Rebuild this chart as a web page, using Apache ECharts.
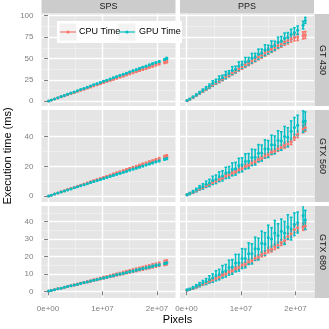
<!DOCTYPE html>
<html>
<head>
<meta charset="utf-8">
<title>Execution time</title>
<script src="https://cdn.jsdelivr.net/npm/echarts@6/dist/echarts.min.js"></script>
<style>
  html, body { margin: 0; padding: 0; background: #fff; }
  #main { width: 329px; height: 329px; }
</style>
</head>
<body>
<div id="main"></div>
<script>
// image size in millions of pixels
var pixels = [0.1, 0.6, 1.2, 1.8, 2.4, 3.0, 3.6, 4.2, 4.8, 5.4, 6.0, 6.6, 7.2, 7.8, 8.4, 9.0, 9.6, 10.2, 10.8, 11.4,
              12.0, 12.6, 13.2, 13.8, 14.4, 15.0, 15.6, 16.2, 16.8, 17.4, 18.0, 18.6, 19.2, 19.8, 20.4, 21.4, 21.8];
var xTickValues = [0, 10, 20];
var xTickLabels = ['0e+00', '1e+07', '2e+07'];
var xMinor = [5, 15];
var kernels = ['SPS', 'PPS'];
var devices = ['GT 430', 'GTX 560', 'GTX 680'];
var yTicks = [[0, 25, 50, 75, 100], [0, 20, 40], [0, 10, 20, 30, 40]];
var yMinor = [[12.5, 37.5, 62.5, 87.5], [10, 30, 50], [5, 15, 25, 35, 45]];
var seriesNames = ['CPU Time', 'GPU Time'];

// GT 430 / SPS
var gt430SpsCpu = [0.2, 1.3, 2.6, 3.9, 5.2, 6.5, 7.7, 9.0, 10.3, 11.6, 12.9, 14.2, 15.5, 16.8, 18.1, 19.4, 20.6, 21.9, 23.2, 24.5,
                   25.8, 27.1, 28.4, 29.7, 31.0, 32.3, 33.5, 34.8, 36.1, 37.4, 38.7, 40.0, 41.3, 42.6, 43.9, 46.0, 46.9];
var gt430SpsCpuErr = [0.1, 0.1, 0.2, 0.2, 0.2, 0.3, 0.3, 0.3, 0.4, 0.4, 0.4, 0.5, 0.5, 0.5, 0.6, 0.6, 0.6, 0.7, 0.7, 0.7,
                      0.8, 0.8, 0.8, 0.9, 0.9, 0.9, 1.0, 1.0, 1.0, 1.1, 1.1, 1.1, 1.2, 1.2, 1.2, 1.8, 2.0];
var gt430SpsGpu = [0.2, 1.4, 2.7, 4.1, 5.5, 6.8, 8.2, 9.6, 10.9, 12.3, 13.7, 15.0, 16.4, 17.8, 19.2, 20.5, 21.9, 23.3, 24.6, 26.0,
                   27.4, 28.7, 30.1, 31.5, 32.8, 34.2, 35.6, 36.9, 38.3, 39.7, 41.0, 42.4, 43.8, 45.1, 46.5, 48.8, 50.2];
var gt430SpsGpuErr = [0.1, 0.1, 0.1, 0.1, 0.2, 0.2, 0.2, 0.2, 0.3, 0.3, 0.3, 0.3, 0.3, 0.4, 0.4, 0.4, 0.4, 0.5, 0.5, 0.5,
                      0.5, 0.5, 0.6, 0.6, 0.6, 0.6, 0.7, 0.7, 0.7, 0.7, 0.8, 0.8, 0.8, 0.8, 0.9, 1.0, 1.0];
// GT 430 / PPS
var gt430PpsCpu = [0.7, 2.4, 4.7, 7.0, 9.3, 11.8, 14.2, 16.6, 19.0, 21.5, 23.8, 26.0, 28.6, 30.8, 33.4, 35.5, 38.0, 40.3, 42.6, 44.8,
                   47.2, 49.4, 51.8, 53.9, 56.3, 58.5, 60.9, 62.8, 65.3, 67.0, 69.4, 71.0, 73.2, 74.5, 75.0, 77.0, 77.5];
var gt430PpsCpuErr = [0.3, 0.4, 0.6, 0.7, 0.9, 1.0, 1.2, 1.4, 1.6, 1.7, 1.9, 2.0, 2.2, 2.3, 2.5, 2.6, 2.8, 2.9, 3.0, 3.1,
                      3.2, 3.3, 3.4, 3.5, 3.6, 3.6, 3.7, 3.8, 3.8, 3.9, 4.0, 4.0, 4.0, 4.0, 4.0, 4.2, 4.0];
var gt430PpsGpu = [0.8, 2.6, 5.0, 7.4, 9.9, 12.5, 15.0, 17.6, 20.8, 22.9, 25.8, 27.5, 30.6, 32.4, 35.9, 37.2, 41.0, 42.6, 45.8, 46.9,
                   50.3, 51.5, 55.0, 56.2, 59.8, 60.6, 64.1, 65.0, 68.7, 70.2, 73.6, 74.5, 78.2, 80.5, 83.0, 89.0, 94.5];
var gt430PpsGpuErr = [0.4, 0.6, 0.9, 1.2, 1.5, 1.8, 2.1, 2.5, 3.2, 2.8, 3.8, 3.0, 4.2, 3.4, 4.6, 3.8, 5.0, 4.0, 5.4, 4.3,
                      5.6, 4.6, 6.0, 4.8, 6.2, 5.0, 6.4, 5.2, 6.2, 5.5, 6.2, 5.8, 6.0, 5.5, 5.0, 4.5, 3.5];
// GTX 560 / SPS
var gtx560SpsCpu = [0.1, 0.7, 1.5, 2.2, 3.0, 3.7, 4.4, 5.2, 5.9, 6.6, 7.4, 8.1, 8.9, 9.6, 10.3, 11.1, 11.8, 12.5, 13.3, 14.0,
                    14.8, 15.5, 16.2, 17.0, 17.7, 18.5, 19.2, 19.9, 20.7, 21.4, 22.1, 22.9, 23.6, 24.4, 25.1, 26.3, 26.8];
var gtx560SpsCpuErr = [0.1, 0.1, 0.1, 0.1, 0.2, 0.2, 0.2, 0.2, 0.2, 0.3, 0.3, 0.3, 0.3, 0.3, 0.4, 0.4, 0.4, 0.4, 0.4, 0.5,
                       0.5, 0.5, 0.5, 0.5, 0.6, 0.6, 0.6, 0.6, 0.6, 0.7, 0.7, 0.7, 0.7, 0.7, 0.8, 1.0, 1.0];
var gtx560SpsGpu = [0.1, 0.7, 1.4, 2.1, 2.8, 3.5, 4.2, 4.9, 5.6, 6.3, 7.0, 7.7, 8.4, 9.1, 9.8, 10.5, 11.2, 11.9, 12.6, 13.3,
                    14.0, 14.7, 15.4, 16.1, 16.8, 17.5, 18.2, 18.9, 19.6, 20.3, 21.0, 21.7, 22.4, 23.1, 23.8, 24.9, 25.3];
var gtx560SpsGpuErr = [0.1, 0.1, 0.1, 0.1, 0.1, 0.1, 0.2, 0.2, 0.2, 0.2, 0.2, 0.2, 0.2, 0.3, 0.3, 0.3, 0.3, 0.3, 0.3, 0.3,
                       0.4, 0.4, 0.4, 0.4, 0.4, 0.4, 0.4, 0.5, 0.5, 0.5, 0.5, 0.5, 0.5, 0.5, 0.6, 0.7, 0.7];
// GTX 560 / PPS
var gtx560PpsCpu = [0.9, 1.6, 2.6, 3.7, 4.9, 5.8, 7.0, 8.0, 9.2, 10.1, 11.3, 12.2, 13.5, 14.3, 15.6, 16.4, 17.8, 18.6, 20.0, 20.8,
                    22.3, 23.1, 24.6, 25.4, 27.0, 27.8, 29.4, 30.2, 31.8, 32.6, 34.0, 35.0, 36.5, 39.5, 41.5, 45.0, 46.0];
var gtx560PpsCpuErr = [0.3, 0.3, 0.4, 0.4, 0.5, 0.5, 0.6, 0.6, 0.7, 0.7, 0.8, 0.8, 0.9, 0.9, 1.0, 1.0, 1.1, 1.1, 1.2, 1.2,
                       1.3, 1.3, 1.4, 1.4, 1.5, 1.5, 1.6, 1.6, 1.7, 1.7, 1.8, 1.8, 1.9, 2.0, 2.2, 2.5, 2.5];
var gtx560PpsGpu = [1.0, 1.8, 2.9, 4.1, 5.6, 6.5, 8.0, 8.9, 10.6, 11.3, 13.0, 13.6, 15.6, 16.0, 18.0, 18.4, 20.6, 21.0, 23.3, 23.6,
                    26.0, 26.1, 28.8, 28.9, 31.7, 31.6, 34.5, 34.4, 37.3, 37.0, 40.0, 39.5, 43.5, 46.0, 47.5, 50.0, 50.5];
var gtx560PpsGpuErr = [0.5, 0.7, 0.9, 1.2, 1.5, 1.8, 2.1, 2.4, 2.8, 2.9, 3.3, 3.4, 3.8, 3.9, 4.3, 4.3, 4.8, 4.7, 5.1, 5.0,
                       5.5, 5.2, 5.8, 5.4, 6.1, 5.7, 6.4, 6.0, 6.6, 6.2, 6.8, 6.4, 7.0, 6.8, 6.8, 7.2, 6.0];
// GTX 680 / SPS
var gtx680SpsCpu = [0.1, 0.5, 0.9, 1.4, 1.8, 2.3, 2.7, 3.2, 3.6, 4.1, 4.6, 5.0, 5.5, 5.9, 6.4, 6.8, 7.3, 7.8, 8.2, 8.7,
                    9.1, 9.6, 10.0, 10.5, 11.0, 11.4, 11.9, 12.3, 12.8, 13.2, 13.7, 14.1, 14.6, 15.0, 15.5, 16.3, 16.6];
var gtx680SpsCpuErr = [0.1, 0.1, 0.2, 0.2, 0.2, 0.3, 0.3, 0.3, 0.4, 0.4, 0.4, 0.5, 0.5, 0.5, 0.6, 0.6, 0.6, 0.7, 0.7, 0.7,
                       0.8, 0.8, 0.8, 0.9, 0.9, 0.9, 1.0, 1.0, 1.0, 1.1, 1.1, 1.1, 1.2, 1.2, 1.2, 1.5, 1.5];
var gtx680SpsGpu = [0.1, 0.5, 0.9, 1.4, 1.8, 2.3, 2.7, 3.2, 3.6, 4.1, 4.5, 5.0, 5.4, 5.9, 6.3, 6.8, 7.2, 7.7, 8.1, 8.6,
                    9.0, 9.5, 9.9, 10.4, 10.8, 11.3, 11.7, 12.2, 12.6, 13.1, 13.5, 14.0, 14.4, 14.9, 15.3, 16.0, 16.4];
var gtx680SpsGpuErr = [0.1, 0.1, 0.1, 0.1, 0.1, 0.1, 0.1, 0.1, 0.1, 0.2, 0.2, 0.2, 0.2, 0.2, 0.2, 0.2, 0.2, 0.3, 0.3, 0.3,
                       0.3, 0.3, 0.3, 0.3, 0.3, 0.4, 0.4, 0.4, 0.4, 0.4, 0.4, 0.4, 0.5, 0.5, 0.5, 0.5, 0.5];
// GTX 680 / PPS
var gtx680PpsCpu = [0.6, 1.0, 1.7, 2.5, 3.3, 4.1, 4.9, 5.8, 6.5, 7.5, 8.2, 9.3, 10.0, 11.2, 11.8, 13.1, 13.7, 15.1, 15.6, 17.0,
                    17.6, 19.0, 19.6, 21.2, 21.8, 23.6, 24.2, 25.6, 26.5, 28.0, 29.2, 31.5, 33.0, 35.5, 36.5, 37.0, 37.5];
var gtx680PpsCpuErr = [0.3, 0.3, 0.4, 0.4, 0.5, 0.5, 0.6, 0.6, 0.7, 0.7, 0.8, 0.8, 0.9, 0.9, 1.0, 1.0, 1.1, 1.1, 1.2, 1.2,
                       1.3, 1.3, 1.4, 1.4, 1.5, 1.5, 1.6, 1.6, 1.7, 1.7, 1.8, 1.8, 1.9, 1.9, 2.0, 2.0, 2.0];
var gtx680PpsGpu = [0.8, 1.2, 2.0, 2.9, 3.8, 4.8, 5.6, 6.8, 7.6, 8.9, 9.6, 11.2, 11.8, 13.6, 14.0, 16.2, 16.4, 18.8, 18.9, 21.6,
                    21.5, 24.5, 24.3, 27.6, 27.2, 30.8, 30.0, 33.5, 32.0, 34.5, 33.5, 37.0, 36.0, 38.5, 39.5, 43.5, 41.0];
var gtx680PpsGpuErr = [0.4, 0.5, 0.7, 0.9, 1.2, 1.4, 1.7, 2.1, 2.4, 2.9, 3.0, 3.6, 3.6, 4.3, 4.2, 5.0, 4.8, 5.7, 5.4, 6.2,
                       5.8, 6.6, 6.2, 7.0, 6.5, 7.2, 6.6, 7.2, 6.8, 7.0, 6.6, 7.0, 6.5, 6.5, 6.0, 6.5, 5.5];

// panels in row-major order: [row][col] -> [cpu, cpuErr, gpu, gpuErr]
var panelData = [
  [[gt430SpsCpu, gt430SpsCpuErr, gt430SpsGpu, gt430SpsGpuErr], [gt430PpsCpu, gt430PpsCpuErr, gt430PpsGpu, gt430PpsGpuErr]],
  [[gtx560SpsCpu, gtx560SpsCpuErr, gtx560SpsGpu, gtx560SpsGpuErr], [gtx560PpsCpu, gtx560PpsCpuErr, gtx560PpsGpu, gtx560PpsGpuErr]],
  [[gtx680SpsCpu, gtx680SpsCpuErr, gtx680SpsGpu, gtx680SpsGpuErr], [gtx680PpsCpu, gtx680PpsCpuErr, gtx680PpsGpu, gtx680PpsGpuErr]]
];

var colors = ['#F8766D', '#00BFC4'];
var font = 'Liberation Sans, Arial, sans-serif';

// layout
var colLeft = [41.5, 180], colW = 134;
var rowTop = [14, 110, 206], rowH = 92;
var xRange = [-1.2, 23.4];
var yRanges = [[-5.5, 102], [-3.9, 57.8], [-3.85, 49]];

var myChart = echarts.init(document.getElementById('main'));

function errRenderer(color) {
  return function (params, api) {
    var x = api.value(0), lo = api.value(2), hi = api.value(3);
    var top = api.coord([x, hi]), bot = api.coord([x, lo]);
    var cw = 1.3;
    var st = { stroke: color, lineWidth: 1.5 };
    return {
      type: 'group',
      children: [
        { type: 'line', shape: { x1: top[0], y1: top[1], x2: bot[0], y2: bot[1] }, style: st },
        { type: 'line', shape: { x1: top[0] - cw, y1: top[1], x2: top[0] + cw, y2: top[1] }, style: st },
        { type: 'line', shape: { x1: bot[0] - cw, y1: bot[1], x2: bot[0] + cw, y2: bot[1] }, style: st }
      ]
    };
  };
}

var grids = [], xAxes = [], yAxes = [], series = [], graphics = [];

for (var r = 0; r < 3; r++) {
  for (var c = 0; c < 2; c++) {
    var gi = r * 2 + c;
    grids.push({
      left: colLeft[c], top: rowTop[r], width: colW, height: rowH,
      show: true, backgroundColor: '#E5E5E5', borderWidth: 0
    });
    // major axes
    xAxes.push({
      type: 'value', gridIndex: gi, min: xRange[0], max: xRange[1], z: 2,
      axisLine: { show: false },
      axisTick: { show: r === 2, length: 4, customValues: xTickValues, lineStyle: { color: '#7F7F7F', width: 1 } },
      axisLabel: {
        show: r === 2, customValues: xTickValues, margin: 7, color: '#7F7F7F', fontSize: 8, fontFamily: font,
        formatter: function (v) { return xTickLabels[xTickValues.indexOf(v)]; }
      },
      splitLine: { show: true, lineStyle: { color: '#FFFFFF', width: 1.4 } }
    });
    yAxes.push({
      type: 'value', gridIndex: gi, min: yRanges[r][0], max: yRanges[r][1], z: 2,
      axisLine: { show: false },
      axisTick: { show: c === 0, length: 4, customValues: yTicks[r], lineStyle: { color: '#7F7F7F', width: 1 } },
      axisLabel: { show: c === 0, customValues: yTicks[r], margin: 8, color: '#7F7F7F', fontSize: 8, fontFamily: font },
      splitLine: { show: true, lineStyle: { color: '#FFFFFF', width: 1.4 } }
    });
  }
}
// minor grid axes
for (var r2 = 0; r2 < 3; r2++) {
  for (var c2 = 0; c2 < 2; c2++) {
    var g2 = r2 * 2 + c2;
    xAxes.push({
      type: 'value', gridIndex: g2, min: xRange[0], max: xRange[1], z: 1,
      axisLine: { show: false }, axisTick: { show: false, customValues: xMinor }, axisLabel: { show: false },
      splitLine: { show: true, lineStyle: { color: '#F2F2F2', width: 0.7 } }
    });
    yAxes.push({
      type: 'value', gridIndex: g2, min: yRanges[r2][0], max: yRanges[r2][1], z: 1,
      axisLine: { show: false }, axisTick: { show: false, customValues: yMinor[r2] }, axisLabel: { show: false },
      splitLine: { show: true, lineStyle: { color: '#F2F2F2', width: 0.7 } }
    });
  }
}

for (var r3 = 0; r3 < 3; r3++) {
  for (var c3 = 0; c3 < 2; c3++) {
    var g3 = r3 * 2 + c3;
    var pd = panelData[r3][c3];
    // error bars first, then points
    for (var s = 0; s < 2; s++) {
      var vals = pd[s * 2], errs = pd[s * 2 + 1];
      var bars = pixels.map(function (x, i) { return [x, vals[i], vals[i] - errs[i], vals[i] + errs[i]]; });
      series.push({
        type: 'custom', name: seriesNames[s], xAxisIndex: g3, yAxisIndex: g3, z: 3, clip: true,
        renderItem: errRenderer(colors[s]), encode: { x: 0, y: [1, 2, 3] }, data: bars, silent: true
      });
    }
    for (var s2 = 0; s2 < 2; s2++) {
      var v2 = pd[s2 * 2];
      series.push({
        type: 'scatter', name: seriesNames[s2], xAxisIndex: g3, yAxisIndex: g3, z: 4,
        symbol: 'circle', symbolSize: 3, itemStyle: { color: colors[s2], opacity: 1 },
        data: pixels.map(function (x, i) { return [x, v2[i]]; }), silent: true, animation: false
      });
    }
  }
}

// strips
for (var k = 0; k < 2; k++) {
  graphics.push({ type: 'rect', shape: { x: colLeft[k], y: 0, width: colW, height: 13.5 }, style: { fill: '#CCCCCC' } });
  graphics.push({
    type: 'text', x: colLeft[k] + colW / 2, y: 7,
    style: { text: kernels[k], fill: '#1A1A1A', font: '9px ' + font, align: 'center', verticalAlign: 'middle' }
  });
}
for (var d = 0; d < 3; d++) {
  graphics.push({ type: 'rect', shape: { x: 314.5, y: rowTop[d], width: 16, height: rowH }, style: { fill: '#CCCCCC' } });
  graphics.push({
    type: 'text', x: 322, y: rowTop[d] + rowH / 2, rotation: -Math.PI / 2,
    style: { text: devices[d], fill: '#1A1A1A', font: '9px ' + font, align: 'center', verticalAlign: 'middle' }
  });
}
// axis titles
graphics.push({
  type: 'text', x: 177.5, y: 320,
  style: { text: 'Pixels', fill: '#000', font: '11px ' + font, align: 'center', verticalAlign: 'middle' }
});
graphics.push({
  type: 'text', x: 8, y: 156, rotation: Math.PI / 2,
  style: { text: 'Execution time (ms)', fill: '#000', font: '11px ' + font, align: 'center', verticalAlign: 'middle' }
});
// legend
var lgX = 57, lgY = 21, lgH = 22;
graphics.push({ type: 'rect', z: 10, shape: { x: lgX, y: lgY, width: 125, height: lgH }, style: { fill: '#FFFFFF' } });
var keyX = [59, 118], textX = [79, 139];
for (var m = 0; m < 2; m++) {
  graphics.push({ type: 'rect', z: 10, shape: { x: keyX[m], y: lgY + 2, width: 18, height: 18 }, style: { fill: '#F2F2F2', stroke: '#FFFFFF', lineWidth: 1 } });
  graphics.push({ type: 'line', z: 11, shape: { x1: keyX[m] + 1, y1: lgY + 11, x2: keyX[m] + 17, y2: lgY + 11 }, style: { stroke: colors[m], lineWidth: 1.2 } });
  graphics.push({ type: 'circle', z: 11, shape: { cx: keyX[m] + 9, cy: lgY + 11, r: 1.6 }, style: { fill: colors[m] } });
  graphics.push({
    type: 'text', z: 11, x: textX[m], y: lgY + 11,
    style: { text: seriesNames[m], fill: '#000', font: '9px ' + font, align: 'left', verticalAlign: 'middle' }
  });
}

var option = {
  animation: false,
  grid: grids,
  xAxis: xAxes,
  yAxis: yAxes,
  series: series,
  graphic: graphics
};
myChart.setOption(option);
</script>
</body>
</html>
